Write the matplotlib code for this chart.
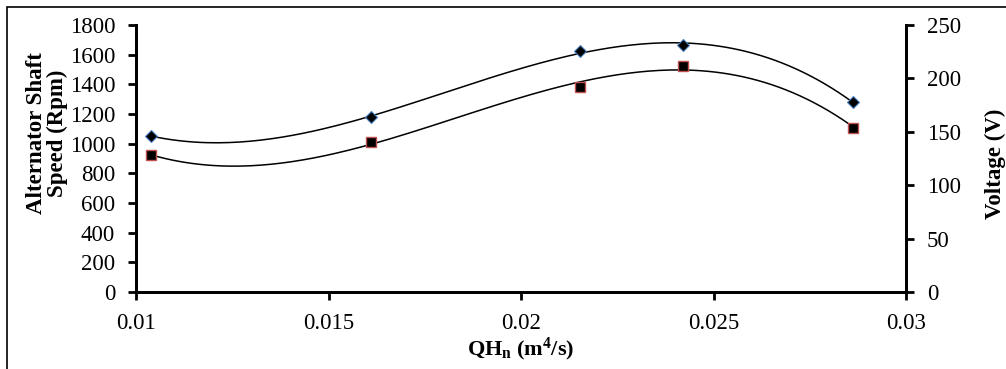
import numpy as np
import matplotlib
matplotlib.use("Agg")
import matplotlib.pyplot as plt
from matplotlib.patches import Rectangle

plt.rcParams['font.family'] = ['Liberation Serif', 'DejaVu Serif']
plt.rcParams['mathtext.default'] = 'regular'

# data
qh = np.array([0.0104, 0.0161, 0.02153, 0.02421, 0.02862])
speed_rpm = np.array([1052, 1180, 1625, 1665, 1281])
voltage_v = np.array([128, 140, 192, 212, 154])

x_ticks = [0.01, 0.015, 0.02, 0.025, 0.03]
x_ticklabels = ['0.01', '0.015', '0.02', '0.025', '0.03']
speed_ticks = np.arange(0, 1801, 200)
volt_ticks = np.arange(0, 251, 50)

W, H = 1006, 369
fig = plt.figure(figsize=(W / 100, H / 100), dpi=100)
ax = fig.add_axes([136 / W, 1 - 292 / H, 770 / W, 267 / H])
ax2 = ax.twinx()

# frame around the whole chart
fig.patches.append(Rectangle((7 / W, -0.1), 1.2, 1 - 7 / H + 0.1,
                             transform=fig.transFigure, fill=False,
                             edgecolor='black', linewidth=1.2))

# cubic trendlines (like Excel's polynomial order 3)
xs = np.linspace(qh.min(), qh.max(), 200)
p_speed = np.polyfit(qh, speed_rpm, 3)
p_volt = np.polyfit(qh, voltage_v, 3)
ax.plot(xs, np.polyval(p_speed, xs), color='black', lw=1.1, zorder=2)
ax2.plot(xs, np.polyval(p_volt, xs), color='black', lw=1.1, zorder=2)

ax.plot(qh, speed_rpm, linestyle='none', marker='D', markersize=6,
        markerfacecolor='black', markeredgecolor='#4a7fc0', markeredgewidth=0.8, zorder=3)
ax2.plot(qh, voltage_v, linestyle='none', marker='s', markersize=7,
         markerfacecolor='black', markeredgecolor='#c0504d', markeredgewidth=1.0, zorder=3)

ax.set_xlim(0.01, 0.03)
ax.set_ylim(0, 1800)
ax2.set_ylim(0, 250)
ax.set_xticks(x_ticks)
ax.set_xticklabels(x_ticklabels)
ax.set_yticks(speed_ticks)
ax2.set_yticks(volt_ticks)

for a in (ax, ax2):
    a.spines['top'].set_visible(False)
    for s in ('left', 'right', 'bottom'):
        a.spines[s].set_linewidth(2)
        a.spines[s].set_color('black')
    a.tick_params(direction='out', length=6, width=2, labelsize=16.5, pad=9)

ax.tick_params(axis='x', pad=9)

fig.text(521 / W, 1 - 349 / H, 'QH$_n$ (m$^4$/s)', fontsize=16, fontweight='bold',
         ha='center', va='center')
fig.text(47 / W, 1 - 133 / H, 'Alternator Shaft\nSpeed (Rpm)', fontsize=16.5,
         fontweight='bold', rotation=90, ha='center', va='center',
         multialignment='center', linespacing=1.0)
fig.text(995 / W, 1 - 164 / H, 'Voltage (V)', fontsize=16.5, fontweight='bold',
         rotation=90, ha='center', va='center')

fig.savefig('out.png', dpi=100)
